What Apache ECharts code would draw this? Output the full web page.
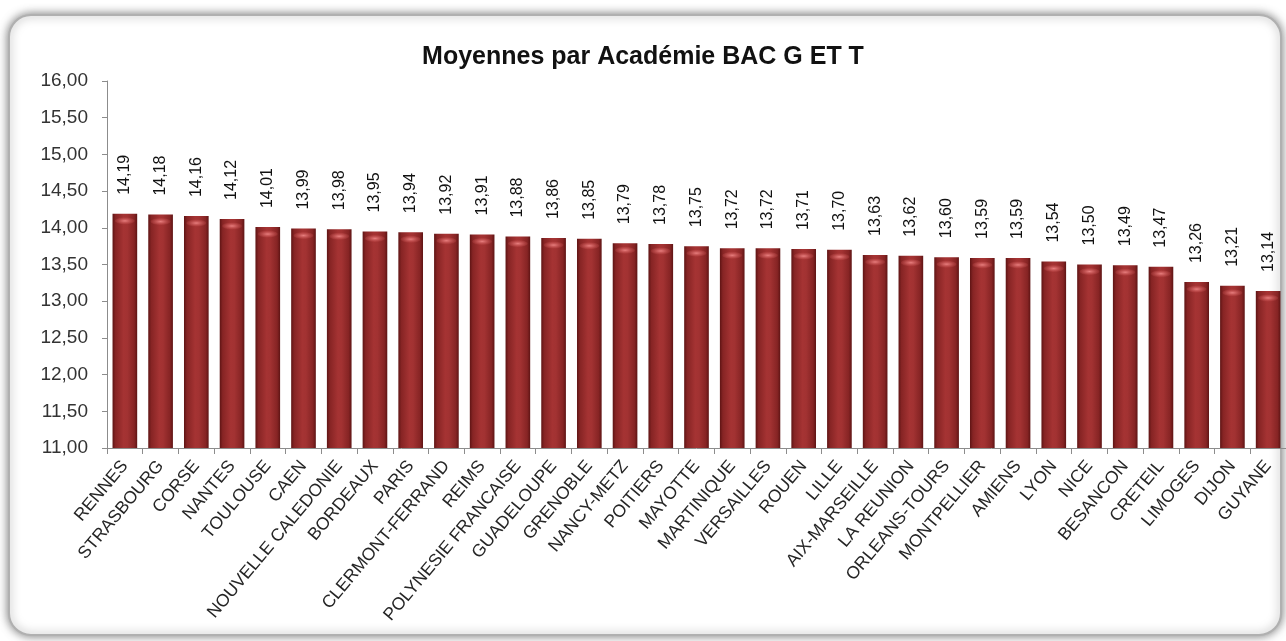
<!DOCTYPE html>
<html>
<head>
<meta charset="utf-8">
<script src="https://cdn.jsdelivr.net/npm/echarts@6/dist/echarts.min.js"></script>
<style>
html,body{margin:0;padding:0;background:#ffffff;}
#chart{width:1286px;height:641px;}
</style>
</head>
<body>
<div id="chart"></div>
<script>
const titleText = 'Moyennes par Académie BAC G ET T';
const categories = ['RENNES','STRASBOURG','CORSE','NANTES','TOULOUSE','CAEN','NOUVELLE CALEDONIE','BORDEAUX','PARIS','CLERMONT-FERRAND','REIMS','POLYNESIE FRANCAISE','GUADELOUPE','GRENOBLE','NANCY-METZ','POITIERS','MAYOTTE','MARTINIQUE','VERSAILLES','ROUEN','LILLE','AIX-MARSEILLE','LA REUNION','ORLEANS-TOURS','MONTPELLIER','AMIENS','LYON','NICE','BESANCON','CRETEIL','LIMOGES','DIJON','GUYANE'];
const moyennes = [14.19,14.18,14.16,14.12,14.01,13.99,13.98,13.95,13.94,13.92,13.91,13.88,13.86,13.85,13.79,13.78,13.75,13.72,13.72,13.71,13.70,13.63,13.62,13.60,13.59,13.59,13.54,13.50,13.49,13.47,13.26,13.21,13.14];
const yMin = 11, yMax = 16, yStep = 0.5;

const fmt = v => Number(v).toFixed(2).replace('.', ',');
const chart = echarts.init(document.getElementById('chart'), null, {renderer:'canvas'});
const textColor = '#262626';
chart.setOption({
  animation:false,
  backgroundColor:'#ffffff',
  graphic:[{
    type:'rect', z:-10, silent:true,
    shape:{x:9, y:15, width:1272, height:620, r:22},
    style:{fill:'#ffffff', stroke:'#b0b0b0', lineWidth:2,
      shadowBlur:10, shadowColor:'rgba(0,0,0,0.5)', shadowOffsetX:0, shadowOffsetY:0}
  }],
  title:{
    text:titleText, left:'center', top:40,
    textStyle:{fontFamily:'Liberation Sans, Arial, sans-serif', fontSize:25, fontWeight:'bold', color:'#111'}
  },
  grid:{left:107, right:0, top:81, bottom:193, containLabel:false},
  xAxis:{
    type:'category', data:categories,
    axisLine:{show:true, lineStyle:{color:'#8c8c8c', width:1}},
    axisTick:{show:true, alignWithLabel:false, length:6, lineStyle:{color:'#8c8c8c'}},
    axisLabel:{interval:0, rotate:50, margin:15, fontSize:17.5, color:textColor,
      fontFamily:'Liberation Sans, Arial, sans-serif'},
    splitLine:{show:false}
  },
  yAxis:{
    type:'value', min:yMin, max:yMax, interval:yStep,
    axisLine:{show:true, lineStyle:{color:'#8c8c8c', width:1}},
    axisTick:{show:true, length:5, lineStyle:{color:'#8c8c8c'}},
    axisLabel:{formatter:fmt, fontSize:19, color:'#333', margin:19,
      fontFamily:'Liberation Sans, Arial, sans-serif'},
    splitLine:{show:false}
  },
  series:[{
    type:'bar', data:moyennes, barCategoryGap:'31%',
    itemStyle:{
      color:new echarts.graphic.LinearGradient(0,0,1,0,[
        {offset:0,color:'#5e1414'},{offset:0.12,color:'#862424'},
        {offset:0.45,color:'#a53333'},{offset:0.6,color:'#a23232'},
        {offset:0.88,color:'#862424'},{offset:1,color:'#5e1414'}]),
      borderWidth:0
    },
    label:{
      show:true, position:'top', distance:19, rotate:90,
      align:'left', verticalAlign:'middle',
      formatter:p => fmt(p.value),
      fontSize:16, color:'#111', fontFamily:'Liberation Sans, Arial, sans-serif'
    }
  },{
    type:'pictorialBar', data:moyennes, symbol:'circle', symbolSize:[20,7],
    symbolPosition:'end', symbolOffset:[0,'50%'], barCategoryGap:'31%', z:3,
    itemStyle:{color:new echarts.graphic.RadialGradient(0.5,0.5,0.5,[
      {offset:0,color:'rgba(235,130,130,0.95)'},{offset:1,color:'rgba(200,80,80,0.2)'}])},
    silent:true
  }]
});
</script>
</body>
</html>
